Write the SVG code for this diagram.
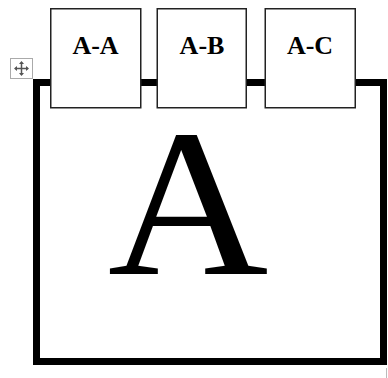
<svg xmlns="http://www.w3.org/2000/svg" width="388" height="378" viewBox="0 0 388 378">
<style>
.frame{fill:#fff;stroke:#000;stroke-width:7}
.box{fill:#fff;stroke:#222;stroke-width:1.5}
.lbl{font-family:"Liberation Serif","Times New Roman",serif;font-weight:bold;font-size:26px;text-anchor:middle;fill:#000}
.big{font-family:"Liberation Serif","Times New Roman",serif;font-size:210px;text-anchor:middle;fill:#000}
.handle{fill:#fff;stroke:#aaa;stroke-width:1}
</style>
<rect width="388" height="378" fill="#fff"/>
<g id="move-handle">
<rect class="handle" x="10.5" y="58.5" width="22" height="20"/>
<g stroke="#555" stroke-width="1.5" fill="none">
<line x1="15" y1="68.5" x2="28" y2="68.5"/>
<line x1="21.5" y1="62" x2="21.5" y2="75"/>
</g>
<g fill="#555">
<polygon points="14,68.5 17,66 17,71"/>
<polygon points="29,68.5 26,66 26,71"/>
<polygon points="21.5,61 19,64 24,64"/>
<polygon points="21.5,76 19,73 24,73"/>
</g>
</g>
<g id="frame">
<rect class="frame" x="36.5" y="82.5" width="347" height="279"/>
<text class="big" x="0" y="274" transform="translate(188 0) scale(1.06 1)">A</text>
</g>
<g id="connectors"></g>
<g id="A-A">
<rect class="box" x="50.75" y="8.75" width="90" height="99"/>
<text class="lbl" x="95.5" y="54">A-A</text>
</g>
<g id="A-B">
<rect class="box" x="157.25" y="8.75" width="89" height="99"/>
<text class="lbl" x="202" y="54">A-B</text>
</g>
<g id="A-C">
<rect class="box" x="265.25" y="8.75" width="90" height="99"/>
<text class="lbl" x="310" y="54">A-C</text>
</g>
<line x1="386.5" y1="368" x2="386.5" y2="378" stroke="#bbb" stroke-width="1"/>
</svg>
